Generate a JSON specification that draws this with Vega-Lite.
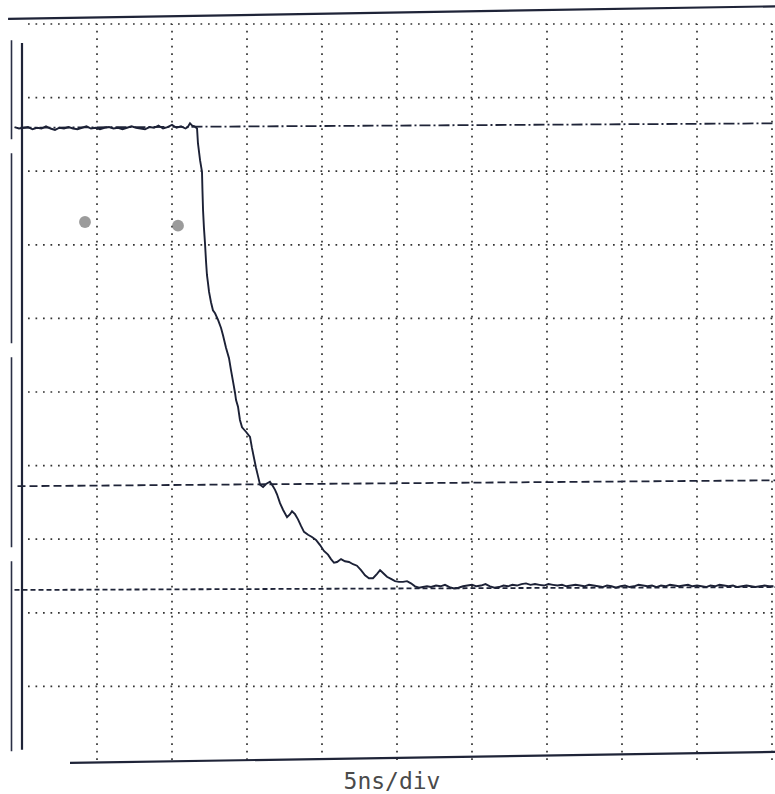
{
  "$schema": "https://vega.github.io/schema/vega-lite/v6.json",
  "width": 767,
  "height": 765,
  "autosize": {"type": "none"},
  "padding": {"left": 8, "right": 0, "top": 5, "bottom": 24},
  "background": "white",
  "config": {
    "view": {"stroke": null},
    "axisX": {"labels": false, "ticks": false, "domain": false, "grid": false, "titleFont": "DejaVu Sans Mono", "titleFontSize": 23, "titleFontWeight": "normal", "titleColor": "#4a4a4a", "titlePadding": 0}
  },
  "datasets": {
    "grid": [
      {"x": 5, "x2": 5, "y": 0, "y2": 10},
      {"x": 10, "x2": 10, "y": 0, "y2": 10},
      {"x": 15, "x2": 15, "y": 0, "y2": 10},
      {"x": 20, "x2": 20, "y": 0, "y2": 10},
      {"x": 25, "x2": 25, "y": 0, "y2": 10},
      {"x": 30, "x2": 30, "y": 0, "y2": 10},
      {"x": 35, "x2": 35, "y": 0, "y2": 10},
      {"x": 40, "x2": 40, "y": 0, "y2": 10},
      {"x": 45, "x2": 45, "y": 0, "y2": 10},
      {"x": 50, "x2": 50, "y": 0, "y2": 10},
      {"x": 0.4, "x2": 50.2, "y": 1, "y2": 1},
      {"x": 0.4, "x2": 50.2, "y": 2, "y2": 2},
      {"x": 0.4, "x2": 50.2, "y": 3, "y2": 3},
      {"x": 0.4, "x2": 50.2, "y": 4, "y2": 4},
      {"x": 0.4, "x2": 50.2, "y": 5, "y2": 5},
      {"x": 0.4, "x2": 50.2, "y": 6, "y2": 6},
      {"x": 0.4, "x2": 50.2, "y": 7, "y2": 7},
      {"x": 0.4, "x2": 50.2, "y": 8, "y2": 8},
      {"x": 0.4, "x2": 50.2, "y": 9, "y2": 9},
      {"x": 0.4, "x2": 50.2, "y": 10, "y2": 10}
    ],
    "cursors": [
      {"kind": "upper", "x": -0.1, "x2": 50.2, "y": 8.59, "y2": 8.65},
      {"kind": "middle", "x": -0.3, "x2": 50.2, "y": 3.72, "y2": 3.80},
      {"kind": "lower", "x": -0.5, "x2": 50.2, "y": 2.31, "y2": 2.35}
    ],
    "frame": [
      {"kind": "top", "x": -0.93, "x2": 50.2, "y": 10.07, "y2": 10.24},
      {"kind": "bottom", "x": 3.2, "x2": 50.2, "y": -0.04, "y2": 0.11},
      {"kind": "left", "x": 0, "x2": 0, "y": 0.14, "y2": 9.74},
      {"kind": "outer", "x": -0.7, "x2": -0.7, "y": 0.12, "y2": 9.78}
    ],
    "spots": [
      {"x": 4.2, "y": 7.31},
      {"x": 10.4, "y": 7.26}
    ],
    "trace": [
      {"t": -0.5, "v": 8.60}, {"t": -0.2, "v": 8.58}, {"t": 0.1, "v": 8.59}, {"t": 0.4, "v": 8.60},
      {"t": 0.7, "v": 8.57}, {"t": 1.0, "v": 8.59}, {"t": 1.3, "v": 8.58}, {"t": 1.6, "v": 8.61},
      {"t": 1.9, "v": 8.58}, {"t": 2.2, "v": 8.56}, {"t": 2.5, "v": 8.59}, {"t": 2.8, "v": 8.58},
      {"t": 3.1, "v": 8.60}, {"t": 3.4, "v": 8.58}, {"t": 3.7, "v": 8.57}, {"t": 4.0, "v": 8.59},
      {"t": 4.3, "v": 8.61}, {"t": 4.6, "v": 8.58}, {"t": 4.9, "v": 8.59}, {"t": 5.2, "v": 8.57},
      {"t": 5.5, "v": 8.59}, {"t": 5.8, "v": 8.60}, {"t": 6.1, "v": 8.58}, {"t": 6.4, "v": 8.59},
      {"t": 6.7, "v": 8.57}, {"t": 7.0, "v": 8.59}, {"t": 7.3, "v": 8.61}, {"t": 7.6, "v": 8.59},
      {"t": 7.9, "v": 8.58}, {"t": 8.2, "v": 8.57}, {"t": 8.5, "v": 8.60}, {"t": 8.8, "v": 8.59},
      {"t": 9.1, "v": 8.62}, {"t": 9.4, "v": 8.58}, {"t": 9.7, "v": 8.60}, {"t": 10.0, "v": 8.63},
      {"t": 10.3, "v": 8.59}, {"t": 10.6, "v": 8.61}, {"t": 10.9, "v": 8.58}, {"t": 11.05, "v": 8.60},
      {"t": 11.2, "v": 8.65}, {"t": 11.35, "v": 8.62}, {"t": 11.5, "v": 8.61}, {"t": 11.67, "v": 8.58},
      {"t": 11.73, "v": 8.38}, {"t": 11.87, "v": 8.15}, {"t": 12.0, "v": 7.99}, {"t": 12.03, "v": 7.74},
      {"t": 12.07, "v": 7.47}, {"t": 12.13, "v": 7.23}, {"t": 12.2, "v": 7.02}, {"t": 12.27, "v": 6.77},
      {"t": 12.33, "v": 6.59}, {"t": 12.4, "v": 6.48}, {"t": 12.47, "v": 6.36}, {"t": 12.6, "v": 6.22},
      {"t": 12.73, "v": 6.11}, {"t": 12.87, "v": 6.07}, {"t": 13.07, "v": 5.98}, {"t": 13.27, "v": 5.87},
      {"t": 13.4, "v": 5.77}, {"t": 13.6, "v": 5.60}, {"t": 13.8, "v": 5.46}, {"t": 13.93, "v": 5.30},
      {"t": 14.07, "v": 5.14}, {"t": 14.2, "v": 4.99}, {"t": 14.27, "v": 4.89}, {"t": 14.4, "v": 4.80},
      {"t": 14.53, "v": 4.62}, {"t": 14.67, "v": 4.52}, {"t": 14.93, "v": 4.46}, {"t": 15.2, "v": 4.39},
      {"t": 15.33, "v": 4.24}, {"t": 15.47, "v": 4.10}, {"t": 15.6, "v": 3.97}, {"t": 15.73, "v": 3.86},
      {"t": 15.87, "v": 3.74}, {"t": 16.07, "v": 3.71}, {"t": 16.27, "v": 3.75}, {"t": 16.53, "v": 3.78},
      {"t": 16.73, "v": 3.72}, {"t": 16.87, "v": 3.67}, {"t": 17.0, "v": 3.61}, {"t": 17.2, "v": 3.49},
      {"t": 17.4, "v": 3.40}, {"t": 17.67, "v": 3.30}, {"t": 17.87, "v": 3.34}, {"t": 18.0, "v": 3.38},
      {"t": 18.2, "v": 3.34}, {"t": 18.4, "v": 3.27}, {"t": 18.6, "v": 3.18}, {"t": 18.8, "v": 3.10},
      {"t": 19.07, "v": 3.06}, {"t": 19.33, "v": 3.03}, {"t": 19.6, "v": 2.99}, {"t": 19.87, "v": 2.92},
      {"t": 20.13, "v": 2.84}, {"t": 20.4, "v": 2.79}, {"t": 20.6, "v": 2.73}, {"t": 20.8, "v": 2.68},
      {"t": 21.0, "v": 2.69}, {"t": 21.27, "v": 2.73}, {"t": 21.53, "v": 2.70}, {"t": 21.8, "v": 2.69},
      {"t": 22.07, "v": 2.66}, {"t": 22.33, "v": 2.64}, {"t": 22.6, "v": 2.58}, {"t": 22.87, "v": 2.51},
      {"t": 23.13, "v": 2.47}, {"t": 23.4, "v": 2.47}, {"t": 23.67, "v": 2.53}, {"t": 23.87, "v": 2.58},
      {"t": 24.07, "v": 2.54}, {"t": 24.33, "v": 2.49}, {"t": 24.6, "v": 2.46}, {"t": 24.87, "v": 2.43},
      {"t": 25.13, "v": 2.42}, {"t": 25.4, "v": 2.42}, {"t": 25.67, "v": 2.43}, {"t": 25.93, "v": 2.40},
      {"t": 26.2, "v": 2.36}, {"t": 26.47, "v": 2.34}, {"t": 26.73, "v": 2.35}, {"t": 27.0, "v": 2.36},
      {"t": 27.27, "v": 2.35}, {"t": 27.6, "v": 2.37}, {"t": 27.9, "v": 2.36}, {"t": 28.2, "v": 2.38},
      {"t": 28.5, "v": 2.35}, {"t": 28.8, "v": 2.33}, {"t": 29.1, "v": 2.34}, {"t": 29.4, "v": 2.36},
      {"t": 29.7, "v": 2.37}, {"t": 30.0, "v": 2.38}, {"t": 30.3, "v": 2.36}, {"t": 30.6, "v": 2.37},
      {"t": 30.9, "v": 2.39}, {"t": 31.2, "v": 2.36}, {"t": 31.5, "v": 2.34}, {"t": 31.8, "v": 2.35},
      {"t": 32.1, "v": 2.37}, {"t": 32.4, "v": 2.36}, {"t": 32.7, "v": 2.38}, {"t": 33.0, "v": 2.37},
      {"t": 33.3, "v": 2.39}, {"t": 33.6, "v": 2.40}, {"t": 33.9, "v": 2.38}, {"t": 34.2, "v": 2.39},
      {"t": 34.5, "v": 2.38}, {"t": 34.8, "v": 2.37}, {"t": 35.1, "v": 2.39}, {"t": 35.4, "v": 2.38},
      {"t": 35.7, "v": 2.37}, {"t": 36.0, "v": 2.38}, {"t": 36.3, "v": 2.36}, {"t": 36.6, "v": 2.37},
      {"t": 36.9, "v": 2.38}, {"t": 37.2, "v": 2.37}, {"t": 37.5, "v": 2.36}, {"t": 37.8, "v": 2.38},
      {"t": 38.1, "v": 2.37}, {"t": 38.4, "v": 2.36}, {"t": 38.7, "v": 2.35}, {"t": 39.0, "v": 2.37},
      {"t": 39.3, "v": 2.36}, {"t": 39.6, "v": 2.34}, {"t": 39.9, "v": 2.36}, {"t": 40.2, "v": 2.37},
      {"t": 40.5, "v": 2.35}, {"t": 40.8, "v": 2.36}, {"t": 41.1, "v": 2.38}, {"t": 41.4, "v": 2.37},
      {"t": 41.7, "v": 2.36}, {"t": 42.0, "v": 2.37}, {"t": 42.3, "v": 2.35}, {"t": 42.6, "v": 2.37},
      {"t": 42.9, "v": 2.36}, {"t": 43.2, "v": 2.38}, {"t": 43.5, "v": 2.37}, {"t": 43.8, "v": 2.36},
      {"t": 44.1, "v": 2.37}, {"t": 44.4, "v": 2.38}, {"t": 44.7, "v": 2.36}, {"t": 45.0, "v": 2.37},
      {"t": 45.3, "v": 2.36}, {"t": 45.6, "v": 2.35}, {"t": 45.9, "v": 2.37}, {"t": 46.2, "v": 2.36},
      {"t": 46.5, "v": 2.38}, {"t": 46.8, "v": 2.37}, {"t": 47.1, "v": 2.36}, {"t": 47.4, "v": 2.37},
      {"t": 47.7, "v": 2.35}, {"t": 48.0, "v": 2.36}, {"t": 48.3, "v": 2.37}, {"t": 48.6, "v": 2.36},
      {"t": 48.9, "v": 2.35}, {"t": 49.2, "v": 2.36}, {"t": 49.5, "v": 2.37}, {"t": 49.8, "v": 2.36},
      {"t": 50.1, "v": 2.36}
    ]
  },
  "layer": [
    {
      "data": {"name": "grid"},
      "mark": {"type": "rule", "color": "#333333", "strokeWidth": 1.7, "strokeDash": [1.7, 5.8]},
      "encoding": {
        "x": {"field": "x", "type": "quantitative", "title": "5ns/div", "scale": {"domain": [-0.9333, 50.2], "nice": false, "zero": false}},
        "x2": {"field": "x2"},
        "y": {"field": "y", "type": "quantitative", "axis": null, "scale": {"domain": [-0.136, 10.258], "nice": false, "zero": false}},
        "y2": {"field": "y2"}
      }
    },
    {
      "data": {"name": "cursors"},
      "mark": {"type": "rule", "color": "#1f2438", "strokeWidth": 1.8},
      "encoding": {
        "x": {"field": "x", "type": "quantitative", "title": "5ns/div"},
        "x2": {"field": "x2"},
        "y": {"field": "y", "type": "quantitative", "axis": null},
        "y2": {"field": "y2"},
        "strokeDash": {"field": "kind", "type": "nominal", "legend": null, "scale": {"domain": ["upper", "middle", "lower"], "range": [[11, 3, 2, 3], [8, 4], [5, 3]]}}
      }
    },
    {
      "data": {"name": "frame"},
      "transform": [{"filter": "datum.kind !== 'outer'"}],
      "mark": {"type": "rule", "color": "#1f2438", "strokeWidth": 2.2},
      "encoding": {
        "x": {"field": "x", "type": "quantitative", "title": "5ns/div"},
        "x2": {"field": "x2"},
        "y": {"field": "y", "type": "quantitative", "axis": null},
        "y2": {"field": "y2"}
      }
    },
    {
      "data": {"name": "frame"},
      "transform": [{"filter": "datum.kind === 'outer'"}],
      "mark": {"type": "rule", "color": "#2a2f45", "strokeWidth": 1.6, "strokeDash": [190, 14]},
      "encoding": {
        "x": {"field": "x", "type": "quantitative", "title": "5ns/div"},
        "x2": {"field": "x2"},
        "y": {"field": "y", "type": "quantitative", "axis": null},
        "y2": {"field": "y2"}
      }
    },
    {
      "data": {"name": "spots"},
      "mark": {"type": "circle", "color": "#666", "opacity": 0.65, "size": 140},
      "encoding": {
        "x": {"field": "x", "type": "quantitative", "title": "5ns/div"},
        "y": {"field": "y", "type": "quantitative", "axis": null}
      }
    },
    {
      "data": {"name": "trace"},
      "mark": {"type": "line", "color": "#1c2136", "strokeWidth": 1.9},
      "encoding": {
        "x": {"field": "t", "type": "quantitative", "title": "5ns/div"},
        "y": {"field": "v", "type": "quantitative", "axis": null}
      }
    }
  ]
}
